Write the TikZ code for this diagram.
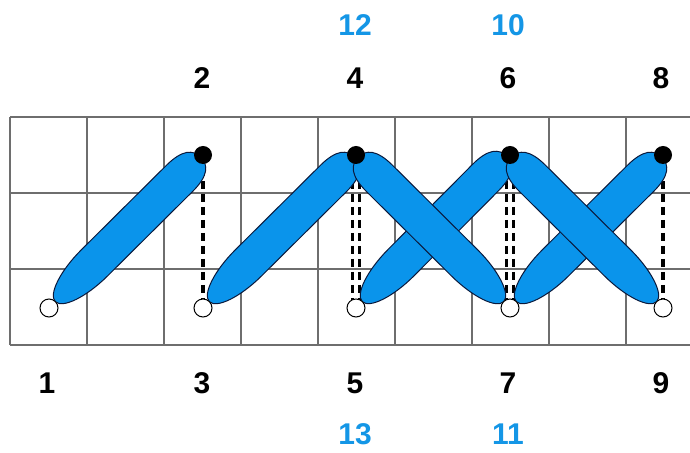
\documentclass[tikz,border=0pt]{standalone}
\usepackage{fontspec}
\setmainfont{Liberation Sans}
\definecolor{stitchblue}{RGB}{10,148,235}
\definecolor{labelblue}{RGB}{20,150,230}
\definecolor{gridgray}{RGB}{110,110,110}
\definecolor{stitchedge}{RGB}{10,25,60}
\tikzset{
  gridline/.style={draw=gridgray, line width=2.2pt},
  backstitch/.style={draw=black, line width=3.2pt, dash pattern=on 8pt off 5pt},
  stitchshape/.style={fill=stitchblue, draw=stitchedge, line width=1pt},
  holein/.style={circle, fill=black, minimum size=18pt, inner sep=0pt},
  holeout/.style={circle, fill=white, draw=black, line width=1pt, minimum size=18pt, inner sep=0pt},
  numlabel/.style={font=\fontsize{30}{30}\selectfont\bfseries, text=black, inner sep=0pt},
  bluelabel/.style={font=\fontsize{30}{30}\selectfont\bfseries, text=labelblue, inner sep=0pt}
}
\newcommand{\drawstitch}[3]{%
  \begin{scope}[shift={(#1,#2)}, rotate=#3]
    \path[stitchshape] (9,0) .. controls (9,10) and (34,18.5) .. (64,18.5) -- (184,18.5)
      .. controls (206,18.5) and (214,11) .. (214,0)
      .. controls (214,-11) and (206,-18.5) .. (184,-18.5) -- (64,-18.5)
      .. controls (34,-18.5) and (9,-10) .. (9,0) -- cycle;
  \end{scope}}
\begin{document}
\begin{tikzpicture}[x=1pt,y=1pt]
\useasboundingbox (0,0) rectangle (690,452);
\fill[white] (0,0) rectangle (690,452);
% grid
\foreach \yy in {107,183,259,335} {\draw[gridline] (10,\yy) -- (690,\yy);}
\foreach \xx in {10,87,164,241,318,395,472,549,626} {\draw[gridline] (\xx,107) -- (\xx,335);}
% holes (coordinates)
\coordinate (p1) at (49,144);
\coordinate (p2) at (203,297);
\coordinate (p3) at (203,144);
\coordinate (p4) at (356,297);
\coordinate (p5) at (356,144);
\coordinate (p6) at (510,297);
\coordinate (p7) at (510,144);
\coordinate (p8) at (663,297);
\coordinate (p9) at (663,144);
% back stitches
\draw[backstitch] (p2) -- (p3);
\draw[backstitch] ([xshift=-3.5pt]p4) -- ([xshift=-3.5pt]p5);
\draw[backstitch] ([xshift=3.5pt]p4) -- ([xshift=3.5pt]p5);
\draw[backstitch] ([xshift=-3.5pt]p6) -- ([xshift=-3.5pt]p7);
\draw[backstitch] ([xshift=3.5pt]p6) -- ([xshift=3.5pt]p7);
\draw[backstitch] (p8) -- (p9);
% front stitches: / first
\drawstitch{49}{144}{44.8}
\drawstitch{203}{144}{44.8}
\drawstitch{356}{144}{45.2}
\drawstitch{510}{144}{44.8}
% then \ on top
\drawstitch{510}{144}{135.2}
\drawstitch{663}{144}{135.2}
% hole markers
\node[holeout] (h1) at (p1) {};
\node[holein] (h2) at (p2) {};
\node[holeout] (h3) at (p3) {};
\node[holein] (h4) at (p4) {};
\node[holeout] (h5) at (p5) {};
\node[holein] (h6) at (p6) {};
\node[holeout] (h7) at (p7) {};
\node[holein] (h8) at (p8) {};
\node[holeout] (h9) at (p9) {};
% labels
\node[numlabel] (l1) at (47,69) {1};
\node[numlabel] (l2) at (202,374) {2};
\node[numlabel] (l3) at (202,69) {3};
\node[numlabel] (l4) at (355,374) {4};
\node[numlabel] (l5) at (355,69) {5};
\node[numlabel] (l6) at (508,374) {6};
\node[numlabel] (l7) at (508,69) {7};
\node[numlabel] (l8) at (661,374) {8};
\node[numlabel] (l9) at (661,69) {9};
\node[bluelabel] (l10) at (508,427) {10};
\node[bluelabel] (l11) at (508,18) {11};
\node[bluelabel] (l12) at (355,427) {12};
\node[bluelabel] (l13) at (355,18) {13};
\end{tikzpicture}
\end{document}
